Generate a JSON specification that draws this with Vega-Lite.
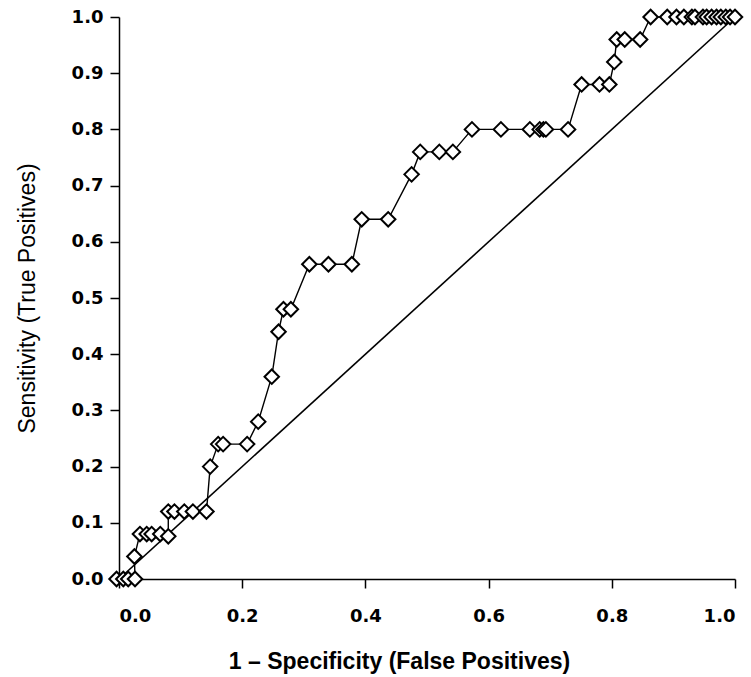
{
  "$schema": "https://vega.github.io/schema/vega-lite/v6.json",
  "width": 616,
  "height": 562,
  "autosize": "none",
  "padding": {"left": 119, "top": 17, "right": 16, "bottom": 98},
  "background": "white",
  "config": {
    "view": {"stroke": null},
    "axis": {
      "grid": false,
      "domainColor": "black",
      "domainWidth": 1.5,
      "tickColor": "black",
      "tickWidth": 1.5,
      "tickSize": 9,
      "labelFont": "DejaVu Sans",
      "labelFontWeight": "bold",
      "labelFontSize": 17,
      "labelColor": "black",
      "titleColor": "black",
      "titleFont": "Liberation Sans"
    }
  },
  "datasets": {
    "roc": [
      {"ord": 1, "fpr": -0.004, "tpr": 0.0},
      {"ord": 2, "fpr": 0.007, "tpr": 0.0},
      {"ord": 3, "fpr": 0.015, "tpr": 0.0},
      {"ord": 4, "fpr": 0.026, "tpr": 0.0},
      {"ord": 5, "fpr": 0.025, "tpr": 0.04},
      {"ord": 6, "fpr": 0.034, "tpr": 0.08},
      {"ord": 7, "fpr": 0.045, "tpr": 0.08},
      {"ord": 8, "fpr": 0.053, "tpr": 0.08},
      {"ord": 9, "fpr": 0.067, "tpr": 0.08},
      {"ord": 10, "fpr": 0.08, "tpr": 0.076},
      {"ord": 11, "fpr": 0.08, "tpr": 0.12},
      {"ord": 12, "fpr": 0.09, "tpr": 0.12},
      {"ord": 13, "fpr": 0.106, "tpr": 0.12},
      {"ord": 14, "fpr": 0.12, "tpr": 0.12},
      {"ord": 15, "fpr": 0.142, "tpr": 0.12},
      {"ord": 16, "fpr": 0.148, "tpr": 0.2},
      {"ord": 17, "fpr": 0.161, "tpr": 0.24},
      {"ord": 18, "fpr": 0.169, "tpr": 0.24},
      {"ord": 19, "fpr": 0.208, "tpr": 0.24},
      {"ord": 20, "fpr": 0.226, "tpr": 0.28},
      {"ord": 21, "fpr": 0.248, "tpr": 0.36},
      {"ord": 22, "fpr": 0.259, "tpr": 0.44},
      {"ord": 23, "fpr": 0.267, "tpr": 0.48},
      {"ord": 24, "fpr": 0.279, "tpr": 0.48},
      {"ord": 25, "fpr": 0.309, "tpr": 0.56},
      {"ord": 26, "fpr": 0.34, "tpr": 0.56},
      {"ord": 27, "fpr": 0.378, "tpr": 0.56},
      {"ord": 28, "fpr": 0.394, "tpr": 0.64},
      {"ord": 29, "fpr": 0.437, "tpr": 0.64},
      {"ord": 30, "fpr": 0.475, "tpr": 0.72},
      {"ord": 31, "fpr": 0.489, "tpr": 0.76},
      {"ord": 32, "fpr": 0.52, "tpr": 0.76},
      {"ord": 33, "fpr": 0.542, "tpr": 0.76},
      {"ord": 34, "fpr": 0.573, "tpr": 0.8},
      {"ord": 35, "fpr": 0.62, "tpr": 0.8},
      {"ord": 36, "fpr": 0.667, "tpr": 0.8},
      {"ord": 37, "fpr": 0.683, "tpr": 0.8},
      {"ord": 38, "fpr": 0.689, "tpr": 0.8},
      {"ord": 39, "fpr": 0.693, "tpr": 0.8},
      {"ord": 40, "fpr": 0.729, "tpr": 0.8},
      {"ord": 41, "fpr": 0.751, "tpr": 0.88},
      {"ord": 42, "fpr": 0.78, "tpr": 0.88},
      {"ord": 43, "fpr": 0.796, "tpr": 0.88},
      {"ord": 44, "fpr": 0.804, "tpr": 0.92},
      {"ord": 45, "fpr": 0.808, "tpr": 0.96},
      {"ord": 46, "fpr": 0.821, "tpr": 0.96},
      {"ord": 47, "fpr": 0.846, "tpr": 0.96},
      {"ord": 48, "fpr": 0.863, "tpr": 1.0},
      {"ord": 49, "fpr": 0.89, "tpr": 1.0},
      {"ord": 50, "fpr": 0.905, "tpr": 1.0},
      {"ord": 51, "fpr": 0.917, "tpr": 1.0},
      {"ord": 52, "fpr": 0.93, "tpr": 1.0},
      {"ord": 53, "fpr": 0.935, "tpr": 1.0},
      {"ord": 54, "fpr": 0.948, "tpr": 1.0},
      {"ord": 55, "fpr": 0.954, "tpr": 1.0},
      {"ord": 56, "fpr": 0.962, "tpr": 1.0},
      {"ord": 57, "fpr": 0.97, "tpr": 1.0},
      {"ord": 58, "fpr": 0.977, "tpr": 1.0},
      {"ord": 59, "fpr": 0.985, "tpr": 1.0},
      {"ord": 60, "fpr": 0.992, "tpr": 1.0},
      {"ord": 61, "fpr": 1.0, "tpr": 1.0}
    ],
    "diag": [
      {"fpr": 0.0, "tpr": 0.0},
      {"fpr": 1.0, "tpr": 1.0}
    ]
  },
  "layer": [
    {
      "data": {"name": "diag"},
      "mark": {"type": "line", "color": "black", "strokeWidth": 1.6, "clip": false},
      "encoding": {
        "x": {
          "field": "fpr", "type": "quantitative",
          "scale": {"domain": [0, 1], "nice": false, "zero": false},
          "axis": {
            "values": [0, 0.2, 0.4, 0.6, 0.8, 1.0],
            "format": ".1f",
            "title": "1 – Specificity (False Positives)",
            "titleFontSize": 23,
            "titleFontWeight": "bold",
            "titleX": 280,
            "titleY": 89,
            "titleBaseline": "alphabetic",
            "labelPadding": 19,
            "labelFontSize": 18
          }
        },
        "y": {
          "field": "tpr", "type": "quantitative",
          "scale": {"domain": [0, 1], "nice": false, "zero": false},
          "axis": {
            "values": [0, 0.1, 0.2, 0.3, 0.4, 0.5, 0.6, 0.7, 0.8, 0.9, 1.0],
            "format": ".1f",
            "title": "Sensitivity (True Positives)",
            "titleFontSize": 23,
            "titleFontWeight": "normal",
            "titleX": -92,
            "titleY": 281,
            "titleAngle": -90,
            "titleBaseline": "middle",
            "labelPadding": 7,
            "labelFontSize": 18
          }
        }
      }
    },
    {
      "data": {"name": "roc"},
      "mark": {"type": "line", "color": "black", "strokeWidth": 1.4, "clip": false},
      "encoding": {
        "x": {"field": "fpr", "type": "quantitative"},
        "y": {"field": "tpr", "type": "quantitative"},
        "order": {"field": "ord", "type": "quantitative"}
      }
    },
    {
      "data": {"name": "roc"},
      "mark": {"type": "point", "shape": "diamond", "filled": true, "fill": "white", "stroke": "black", "strokeWidth": 2, "size": 210, "opacity": 1, "clip": false},
      "encoding": {
        "x": {"field": "fpr", "type": "quantitative"},
        "y": {"field": "tpr", "type": "quantitative"}
      }
    }
  ]
}
